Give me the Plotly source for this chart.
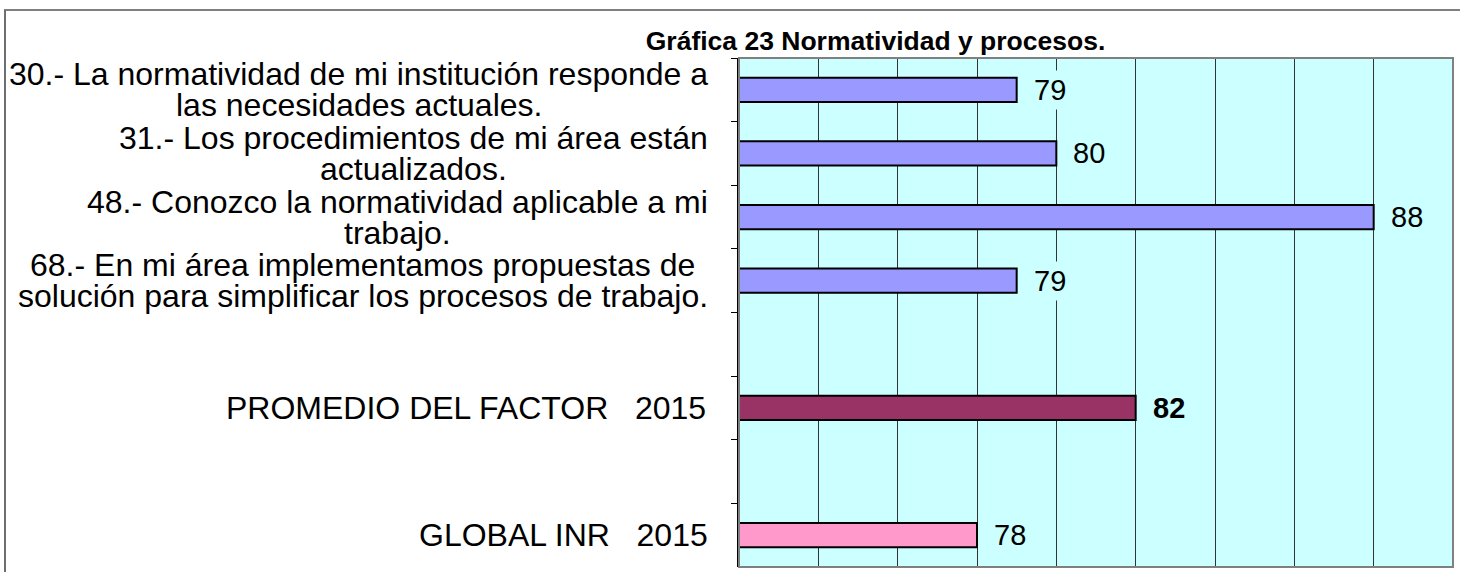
import plotly.graph_objects as go

# ---------------- data ----------------
labels = [
    "30.- La normatividad de mi institución responde a<br>las necesidades actuales.",
    "31.- Los procedimientos de mi área están<br>actualizados.",
    "48.- Conozco la normatividad aplicable a mi<br>trabajo.",
    "68.- En mi área implementamos propuestas de<br>solución para simplificar los procesos de trabajo.",
    "",
    "PROMEDIO DEL FACTOR   2015",
    "",
    "GLOBAL INR   2015",
]
values = [79, 80, 88, 79, None, 82, None, 78]
bar_colors = ["#9999FF", "#9999FF", "#9999FF", "#9999FF", "#9999FF", "#993366", "#9999FF", "#FF99CC"]
bold_value = [False, False, False, False, False, True, False, False]
title_text = "Gráfica 23 Normatividad y procesos."
x_range = [72, 90]
x_dtick = 2

# ---------------- layout constants ----------------
W, H = 1460, 572
L_M, R_M, T_M, B_M = 739, 7, 58, 5
FONT = "Liberation Sans, Arial, sans-serif"
LABEL_FS = 32
LINE_GAP = 31          # distance between wrapped lines (px)
LABEL_RIGHT_GAP = 31   # gap between label block and the axis (px)
VALUE_FS = 29
PLOT_BG = "#CCFFFF"

# Arial / Liberation Sans advance widths (1/1000 em), used to centre wrapped lines
ARIAL_W = {" ": 278, ".": 278, "-": 333, ",": 278}
ARIAL_W.update({d: 556 for d in "0123456789"})
ARIAL_W.update(dict(a=556, b=556, c=500, d=556, e=556, f=278, g=556, h=556, i=222,
                    j=222, k=500, l=222, m=833, n=556, o=556, p=556, q=556, r=333,
                    s=500, t=278, u=556, v=500, w=722, x=500, y=500, z=500))
ARIAL_W.update({"á": 556, "é": 556, "í": 278, "ó": 556, "ú": 556, "ñ": 556})
ARIAL_W.update(dict(A=667, B=667, C=722, D=722, E=667, F=611, G=778, H=722, I=278,
                    J=500, K=667, L=556, M=833, N=722, O=778, P=667, Q=778, R=722,
                    S=667, T=611, U=722, V=667, W=944, X=667, Y=667, Z=611))


def text_width(s, size):
    return sum(ARIAL_W.get(ch, 556) for ch in s) * size / 1000.0


cat_ids = [lab if lab else " " * (i + 1) for i, lab in enumerate(labels)]

fig = go.Figure()
fig.add_trace(go.Bar(
    x=values,
    y=cat_ids,
    orientation="h",
    width=0.38,
    marker=dict(color=bar_colors, line=dict(color="black", width=2)),
    hoverinfo="skip",
    showlegend=False,
))

annotations = []
# category labels: wrapped lines centred on each other, block right-aligned to the axis
for cid, lab in zip(cat_ids, labels):
    if not lab:
        continue
    lines = lab.split("<br>")
    n = len(lines)
    block_w = max(text_width(ln, LABEL_FS) for ln in lines)
    for i, ln in enumerate(lines):
        annotations.append(dict(
            x=0, xref="paper", y=cid, yref="y",
            text=ln,
            showarrow=False, xanchor="center", yanchor="middle",
            xshift=-LABEL_RIGHT_GAP - block_w / 2,
            yshift=-(i - (n - 1) / 2) * LINE_GAP,
            borderpad=0,
            font=dict(family=FONT, size=LABEL_FS, color="black"),
        ))

# value labels
for cid, v, b in zip(cat_ids, values, bold_value):
    if v is None:
        continue
    annotations.append(dict(
        x=v, xref="x", y=cid, yref="y",
        text=(f"<b>{v}</b>" if b else f"{v}"),
        showarrow=False, xanchor="left", yanchor="middle", xshift=13,
        bgcolor=PLOT_BG, borderpad=3,
        font=dict(family=FONT, size=VALUE_FS, color="black"),
    ))

# outer chart frame + plot border
pw = W - L_M - R_M
ph = H - T_M - B_M
px_to_paper_x = lambda px: (px - L_M) / pw
px_to_paper_y = lambda py: (H - B_M - py) / ph
shapes = [
    dict(type="line", xref="paper", yref="paper",
         x0=px_to_paper_x(4), x1=px_to_paper_x(W + 5),
         y0=px_to_paper_y(10), y1=px_to_paper_y(10),
         line=dict(color="black", width=1)),
    dict(type="line", xref="paper", yref="paper",
         x0=px_to_paper_x(5), x1=px_to_paper_x(5),
         y0=px_to_paper_y(10), y1=px_to_paper_y(H + 5),
         line=dict(color="#6e6e6e", width=2)),
    dict(type="rect", xref="paper", yref="paper", x0=0, x1=1, y0=0, y1=1,
         line=dict(color="#808080", width=2), layer="above"),
]

n_cat = len(cat_ids)
fig.update_layout(
    width=W, height=H,
    margin=dict(l=L_M, r=R_M, t=T_M, b=B_M, autoexpand=False),
    paper_bgcolor="white",
    plot_bgcolor=PLOT_BG,
    title=dict(text=title_text, x=875.5 / W, xref="container", xanchor="center",
               y=1 - 41 / H, yref="container", yanchor="middle",
               font=dict(family=FONT, size=26.5, color="black", weight="bold")),
    xaxis=dict(range=x_range, autorange=False, dtick=x_dtick, tick0=x_range[0],
               showgrid=True, gridcolor="#333333", gridwidth=1,
               showticklabels=False, ticks="", zeroline=False,
               showline=False),
    yaxis=dict(type="category", categoryorder="array", categoryarray=cat_ids,
               range=[n_cat - 0.5, -0.5], autorange=False, showticklabels=False,
               ticks="outside", ticklen=6, tickcolor="black", tickwidth=1,
               tickson="boundaries", showgrid=False, zeroline=False,
               showline=True, linecolor="black", linewidth=2),
    annotations=annotations,
    shapes=shapes,
    bargap=0.6,
)

fig.write_html("out.html", config={"displayModeBar": False},
               post_script="document.body.style.margin='0px';")
